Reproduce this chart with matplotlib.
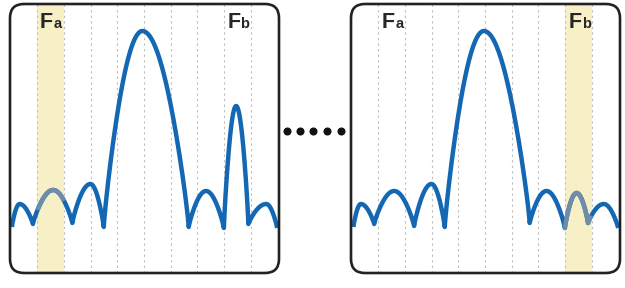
import numpy as np
import matplotlib
matplotlib.use("Agg")
import matplotlib.pyplot as plt
from matplotlib.patches import FancyBboxPatch

# lobe data: cusp positions (grid units) / levels and lobe peaks
left_min_x = [0.04, 0.83, 2.31, 3.49, 6.68, 8.00, 8.92, 10.0]
left_min_y = [46, 49, 50, 46, 46, 45, 49, 45]
left_peak_x = [0.33, 1.59, 2.99, 4.94, 7.33, 8.46, 9.59]
left_peak_y = [69, 83, 89, 242, 82, 167, 69]

right_min_x = [0.06, 0.84, 2.34, 3.49, 6.68, 8.00, 8.87, 10.0]
right_min_y = [46, 49, 47, 46, 50, 45, 50, 45]
right_peak_x = [0.34, 1.59, 2.99, 4.96, 7.31, 8.44, 9.46]
right_peak_y = [69, 82, 89, 242, 82, 80, 69]

grid_x = [1, 2, 3, 4, 5, 6, 7, 8, 9]
left_band = (1, 2)
right_band = (8, 9)
dot_x = [287, 300, 313, 327, 341]

BLUE = "#1467b3"
GREY = "#6f8da8"
BAND = "#f7f0c6"
INK = "#262626"

W, H = 625, 288
fig = plt.figure(figsize=(W / 100, H / 100), dpi=100)
over = fig.add_axes([0, 0, 1, 1], zorder=5)
over.set_xlim(0, W)
over.set_ylim(H, 0)
over.axis("off")
over.patch.set_alpha(0)


def lobes(min_x, min_y, peak_x, peak_y):
    xs, ys = [], []
    for i in range(len(peak_x)):
        x0, x1, xp = min_x[i], min_x[i + 1], peak_x[i]
        y0, y1, yp = min_y[i], min_y[i + 1], peak_y[i]
        x = np.linspace(x0, x1, 120)
        s = np.where(x < xp, 0.5 * (x - x0) / (xp - x0), 0.5 + 0.5 * (x - xp) / (x1 - xp))
        base = np.where(x < xp, y0, y1)
        arch = np.sin(np.pi * s) ** 0.85
        xs.append(x)
        ys.append(base + (yp - base) * arch)
    return np.concatenate(xs), np.concatenate(ys)


def panel(px0, px1, min_x, min_y, peak_x, peak_y, band, labels):
    top, bot = 4, 273
    ax = fig.add_axes([px0 / W, 1 - bot / H, (px1 - px0) / W, (bot - top) / H])
    ax.set_xlim(-0.03, 10.07)
    ax.set_ylim(0, bot - top)
    ax.axis("off")

    frame = FancyBboxPatch((px0, top), px1 - px0, bot - top,
                           boxstyle="round,pad=0,rounding_size=14",
                           fc="none", ec="#222222", lw=1.9, zorder=6)
    over.add_patch(frame)

    ax.axvspan(band[0], band[1], color=BAND, lw=0, zorder=0)
    for g in grid_x:
        ax.axvline(g, color="#bcbcbc", lw=0.8, ls=(0, (2, 3)), zorder=1)

    x, y = lobes(min_x, min_y, peak_x, peak_y)
    ax.plot(x, y, color=BLUE, lw=3.2, solid_capstyle="butt", solid_joinstyle="round", zorder=3)
    m = (x >= band[0]) & (x <= band[1])
    ax.plot(x[m], y[m], color=GREY, lw=3.2, solid_capstyle="butt", zorder=4)

    for fx, sx, sub in labels:
        ax.text(fx, 245, "F", fontsize=15.5, fontweight="bold", color=INK,
                family="Liberation Sans", va="baseline", ha="left", zorder=5)
        ax.text(sx, 245, sub, fontsize=10.5, fontweight="bold", color=INK,
                family="Liberation Sans", va="baseline", ha="left", zorder=5)


panel(10, 279, left_min_x, left_min_y, left_peak_x, left_peak_y, left_band,
      [(1.09, 1.61, "a"), (8.14, 8.62, "b")])
panel(351, 620, right_min_x, right_min_y, right_peak_x, right_peak_y, right_band,
      [(1.12, 1.65, "a"), (8.15, 8.65, "b")])

over.plot(dot_x, [131] * len(dot_x), "o", color="#111111", ms=4.8, ls="none")

fig.savefig("out.png", dpi=100, facecolor="white")
